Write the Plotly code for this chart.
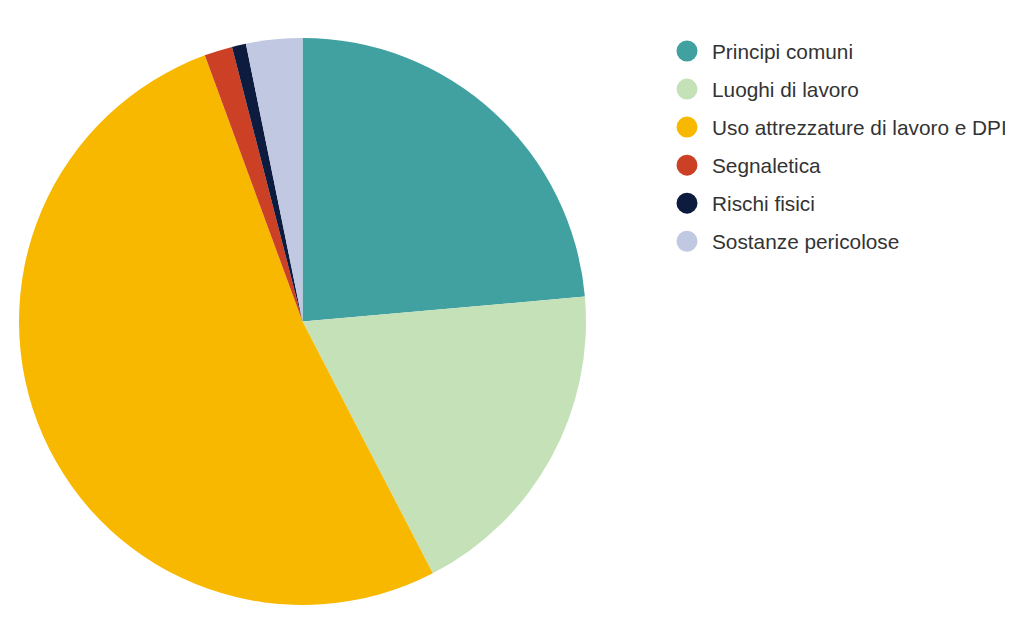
import plotly.graph_objects as go

categories = ["Principi comuni", "Luoghi di lavoro", "Uso attrezzature di lavoro e DPI",
              "Segnaletica", "Rischi fisici", "Sostanze pericolose"]
values = [59, 47, 130, 4, 2, 8]
colors = ["#41a0a0", "#c5e1b8", "#f9b800", "#cc4125", "#0d1b3e", "#c0c8e2"]

W, H = 1013, 625
fig = go.Figure()
fig.add_trace(go.Pie(
    labels=categories, values=values, sort=False, direction="clockwise", rotation=0,
    marker=dict(colors=colors, line=dict(width=0)),
    textinfo="none", hoverinfo="label+percent", showlegend=False,
    domain=dict(x=[11 / W, 578 / W], y=[28 / H, 595 / H]),
))
for i, (name, col) in enumerate(zip(categories, colors)):
    fig.add_trace(go.Scatter(
        x=[None], y=[None], mode="markers", name=name, legendgroup=f"g{i}",
        marker=dict(symbol="circle", size=16, color=col, line=dict(color=col, width=5)),
        showlegend=True, hoverinfo="skip",
    ))

fig.update_layout(
    width=W, height=H, margin=dict(l=0, r=0, t=0, b=0),
    paper_bgcolor="white", plot_bgcolor="white",
    xaxis=dict(visible=False), yaxis=dict(visible=False),
    font=dict(family="Liberation Sans, Arial, sans-serif", size=20.8, color="#333333"),
    legend=dict(x=654 / W, y=1 - 23 / H, xanchor="left", yanchor="top",
                tracegroupgap=8, itemwidth=40, bgcolor="rgba(0,0,0,0)"),
)
fig.write_html("out.html")
